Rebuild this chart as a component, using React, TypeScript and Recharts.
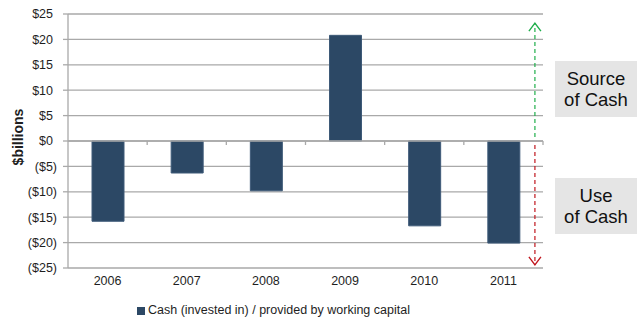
import React from 'react';
import { BarChart, Bar, XAxis, YAxis, CartesianGrid, ReferenceLine, Legend } from 'recharts';

const years = ['2006', '2007', '2008', '2009', '2010', '2011'];
const cashFlow = [-15.8, -6.3, -9.8, 20.8, -16.7, -20.1];
const yTicks = [-25, -20, -15, -10, -5, 0, 5, 10, 15, 20, 25];
const seriesName = 'Cash (invested in) / provided by working capital';
const sourceArrow = [0.8, 23.2];
const useArrow = [-0.8, -24.4];
const arrowYear = '2011';
const sourceLabel = ['Source', 'of Cash'];
const useLabel = ['Use', 'of Cash'];

const data = years.map((y, i) => ({ year: y, value: cashFlow[i] }));

const FONT = '"Liberation Sans", Arial, sans-serif';
const BAR = '#2C4865';
const GRID = '#A9A9A9';
const TEXT = '#1e1e1e';

const YTick = (props: any) => {
  const { x, y, payload } = props;
  const v = payload.value;
  const label = v < 0 ? `($${-v})` : `$${v}`;
  return (
    <text x={v < 0 ? x : x - 4} y={y} dy="0.35em" textAnchor="end" fill={TEXT} fontSize={12.5} fontFamily={FONT}>
      {label}
    </text>
  );
};

const makeArrow = (color: string) => (props: any) => {
  const { x1, y1, y2 } = props;
  const x = x1 + 31.5;
  const dir = y2 < y1 ? 1 : -1;
  return (
    <g>
      <line x1={x} y1={y1} x2={x} y2={y2} stroke={color} strokeWidth={1.2} strokeDasharray="4 3" />
      <polyline
        points={`${x - 6},${y2 + dir * 8} ${x},${y2} ${x + 6},${y2 + dir * 8}`}
        fill="none"
        stroke={color}
        strokeWidth={1.4}
      />
    </g>
  );
};

const ZeroLine = (props: any) => {
  const { x1, x2, y1 } = props;
  const step = (x2 - x1) / years.length;
  return (
    <g>
      <line x1={x1} y1={y1} x2={x2} y2={y1} stroke={GRID} strokeWidth={1.3} />
      {years.map((_, i) => (
        <line key={i} x1={x1 + step * (i + 1)} x2={x1 + step * (i + 1)} y1={y1} y2={y1 + 4} stroke={GRID} strokeWidth={1.3} />
      ))}
    </g>
  );
};

const LegendContent = () => (
  <div style={{ height: 20, display: 'flex', alignItems: 'center', paddingLeft: 137, fontFamily: FONT, fontSize: 12.5, color: TEXT }}>
    <span style={{ display: 'inline-block', width: 8, height: 8, background: BAR, marginRight: 3, marginTop: 2 }} />
    <span>{seriesName}</span>
  </div>
);

const boxStyle: React.CSSProperties = {
  position: 'absolute',
  left: 555,
  width: 82,
  height: 56,
  background: '#E5E5E5',
  fontFamily: FONT,
  fontSize: 18.5,
  lineHeight: '21px',
  color: '#111',
  display: 'flex',
  flexDirection: 'column',
  alignItems: 'center',
  justifyContent: 'center',
  textAlign: 'center',
};

export default function App() {
  return (
    <div style={{ position: 'absolute', left: 0, top: 0, width: 637, height: 320, background: '#fff' }}>
      <BarChart width={637} height={320} data={data} margin={{ top: 14, right: 94, bottom: 0, left: 0 }}>
        <CartesianGrid vertical={false} stroke={GRID} strokeWidth={1.3} />
        <XAxis
          dataKey="year"
          axisLine={false}
          tickLine={false}
          height={32}
          tick={{ fill: TEXT, fontSize: 12.5, fontFamily: FONT }}
        />
        <YAxis
          domain={[-25, 25]}
          ticks={yTicks}
          width={68}
          tickSize={5}
          tickMargin={6}
          interval={0}
          axisLine={{ stroke: GRID, strokeWidth: 1.3 }}
          tickLine={{ stroke: GRID, strokeWidth: 1.3 }}
          tick={<YTick />}
          label={{
            content: (p: any) => {
              const vb = p.viewBox;
              return (
                <text
                  x={vb.x + 23}
                  y={vb.y + vb.height / 2 - 4}
                  transform={`rotate(-90 ${vb.x + 23} ${vb.y + vb.height / 2 - 4})`}
                  textAnchor="middle"
                  fontFamily={FONT}
                  fontWeight="bold"
                  fontSize={14}
                  fill={TEXT}
                >
                  $billions
                </text>
              );
            },
          }}
        />
        <Bar dataKey="value" name={seriesName} fill={BAR} stroke="#3E5A78" strokeWidth={1} barSize={32} isAnimationActive={false} />
        <ReferenceLine y={0} shape={<ZeroLine />} />
        <ReferenceLine
          segment={[{ x: arrowYear, y: sourceArrow[0] }, { x: arrowYear, y: sourceArrow[1] }]}
          shape={makeArrow('#1FAE4B')}
        />
        <ReferenceLine
          segment={[{ x: arrowYear, y: useArrow[0] }, { x: arrowYear, y: useArrow[1] }]}
          shape={makeArrow('#C0161E')}
        />
        <Legend verticalAlign="bottom" align="left" wrapperStyle={{ left: 0, width: 637 }} content={<LegendContent />} />
      </BarChart>
      <div style={{ ...boxStyle, top: 61 }}>
        {sourceLabel.map((t) => (
          <div key={t}>{t}</div>
        ))}
      </div>
      <div style={{ ...boxStyle, top: 178 }}>
        {useLabel.map((t) => (
          <div key={t}>{t}</div>
        ))}
      </div>
    </div>
  );
}
